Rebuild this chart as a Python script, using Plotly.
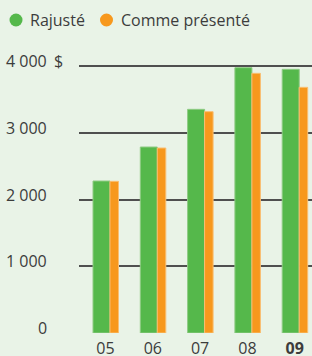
import plotly.graph_objects as go

years = ["05", "06", "07", "08", "09"]
year_labels = ["05", "06", "07", "08", "<b>09</b>"]
rajuste = [2280, 2790, 3355, 3980, 3955]
comme_presente = [2275, 2775, 3320, 3895, 3685]
y_ticks = [0, 1000, 2000, 3000, 4000]
y_tick_labels = ["0", "1 000", "2 000", "3 000", "4 000"]
series_names = ["Rajusté", "Comme présenté"]

GREEN = "#55B84B"
ORANGE = "#F7981D"
BG = "#E9F3E7"
TXT = "#3C3C3C"
FONT = "Open Sans"
FS = 16

W, H = 312, 356
ML, MR, MT, MB = 79, 0, 60, 23
PW, PH = W - ML - MR, H - MT - MB


def px_x(p):
    return (p - ML) / PW


def px_y(p):
    return (H - MB - p) / PH


xs = list(range(len(years)))

fig = go.Figure()
fig.add_trace(go.Bar(
    x=xs, y=rajuste, name=series_names[0], marker=dict(color=GREEN, line=dict(color="#8FCB84", width=1)),
    width=0.36, offset=-0.264, showlegend=False, hoverinfo="skip",
))
fig.add_trace(go.Bar(
    x=xs, y=comme_presente, name=series_names[1], marker=dict(color=ORANGE, line=dict(color="#F9BE72", width=1)),
    width=0.18, offset=0.095, showlegend=False, hoverinfo="skip",
))

annotations = []
shapes = []
for v, lab in zip(y_ticks, y_tick_labels):
    annotations.append(dict(x=px_x(49), xref="paper", y=v, yref="y", text=lab, showarrow=False,
                            xanchor="right", yanchor="middle", yshift=5,
                            font=dict(family=FONT, size=FS, color=TXT)))
annotations.append(dict(x=px_x(49), xref="paper", y=y_ticks[-1], yref="y", text="$", showarrow=False,
                        xanchor="left", yanchor="middle", yshift=5, xshift=3,
                        font=dict(family=FONT, size=FS, color=TXT)))

# manual legend
for (cx, tx), name, col in zip([(16, 28), (106.5, 119)], series_names, [GREEN, ORANGE]):
    shapes.append(dict(type="circle", xref="paper", yref="paper", xsizemode="pixel", ysizemode="pixel",
                       xanchor=px_x(cx), yanchor=px_y(20), x0=-6.5, x1=6.5, y0=-6.5, y1=6.5,
                       fillcolor=col, line=dict(width=0)))
    annotations.append(dict(x=px_x(tx), xref="paper", y=px_y(20), yref="paper", text=name, showarrow=False,
                            xanchor="left", yanchor="middle",
                            font=dict(family=FONT, size=FS, color=TXT)))

fig.update_layout(
    width=W, height=H,
    margin=dict(l=ML, r=MR, t=MT, b=MB, autoexpand=False),
    paper_bgcolor=BG, plot_bgcolor=BG,
    barmode="overlay",
    showlegend=False,
    hovermode=False,
    font=dict(family=FONT, size=FS, color=TXT),
    annotations=annotations,
    shapes=shapes,
    xaxis=dict(range=[-0.56, 4.366], tickvals=xs, ticktext=year_labels, showgrid=False, automargin=False,
               zeroline=False, showline=False, ticks="", tickfont=dict(family=FONT, size=FS, color=TXT),
               ticklabelstandoff=4),
    yaxis=dict(range=[0, 4095], tickvals=y_ticks, showticklabels=False, showgrid=True, automargin=False,
               gridcolor="#4F4F4F", gridwidth=1.5, zeroline=False, showline=False, ticks=""),
)

fig.write_html("out.html", config={"displayModeBar": False},
               post_script="document.body.style.margin='0';document.body.style.overflow='hidden';")
